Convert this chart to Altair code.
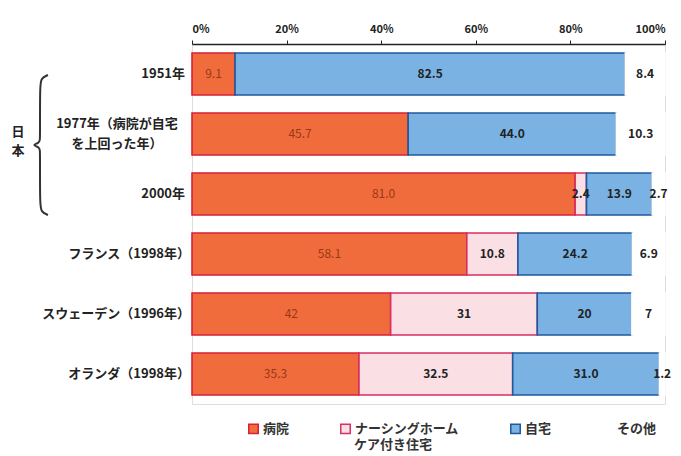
import altair as alt
import pandas as pd

categories = ["1951年", "1977年（病院が自宅|を上回った年）", "2000年",
              "フランス（1998年）", "スウェーデン（1996年）", "オランダ（1998年）"]
series = ["病院", "ナーシングホーム|ケア付き住宅", "自宅", "その他"]
hospital = [9.1, 45.7, 81.0, 58.1, 42, 35.3]
nursing = [0, 0, 2.4, 10.8, 31, 32.5]
home = [82.5, 44.0, 13.9, 24.2, 20, 31.0]
other = [8.4, 10.3, 2.7, 6.9, 7, 1.2]
labels = [
    ["9.1", "", "82.5", "8.4"],
    ["45.7", "", "44.0", "10.3"],
    ["81.0", "2.4", "13.9", "2.7"],
    ["58.1", "10.8", "24.2", "6.9"],
    ["42", "31", "20", "7"],
    ["35.3", "32.5", "31.0", "1.2"],
]
fills = ["#F06C3C", "#FADFE5", "#7AB2E3", "#FFFFFF"]
legend_strokes = ["#D8203A", "#D83060", "#1E5AA0", "#FFFFFF"]

# decorative brace (pixel coords relative to plot origin)
brace_x = [-144, -151, -152, -152, -152, -153, -160, -153, -152, -152, -152, -151, -144]
brace_y = [31, 34, 42, 90, 96, 99, 101, 103, 106, 112, 160, 168, 171]

rows = []
for i, c in enumerate(categories):
    vals = [hospital[i], nursing[i], home[i], other[i]]
    for j, s in enumerate(series):
        rows.append({"cat": c, "series": s, "order": j, "value": vals[j], "label": labels[i][j]})
df = pd.DataFrame(rows)
cat_df = pd.DataFrame({"cat": categories})
brace_df = pd.DataFrame({"bx": brace_x, "by": brace_y, "i": list(range(len(brace_x)))})

FONT = "Noto Sans CJK JP"
yscale = alt.Scale(domain=categories, paddingInner=0.3, paddingOuter=0.15)
Y = alt.Y("cat:N", sort=categories, scale=yscale, axis=None)

base = alt.Chart(df).transform_filter("datum.value > 0").transform_stack(
    stack="value", groupby=["cat"], as_=["x0", "x1"], sort=[alt.SortField("order")]
).transform_calculate(mid="(datum.x0 + datum.x1) / 2")

bars = base.mark_bar(strokeWidth=1.6).encode(
    x=alt.X("x0:Q", scale=alt.Scale(domain=[0, 100], nice=False),
            axis=alt.Axis(orient="top", values=[0, 20, 40, 60, 80, 100],
                          labelExpr="datum.value + '%'", grid=False,
                          domainColor="#222", domainWidth=1.5, tickColor="#222",
                          tickSize=4, labelFont=FONT, labelFontSize=11,
                          labelFontWeight="bold", labelColor="#222", labelPadding=6,
                          title=None)),
    x2="x1:Q",
    y=Y,
    fill=alt.Fill("series:N", scale=alt.Scale(domain=series, range=fills), sort=series,
                  legend=alt.Legend(title=None, orient="none", legendX=55, legendY=378,
                                    direction="horizontal", symbolType="square",
                                    symbolSize=90, symbolStrokeWidth=1.5,
                                    labelFont=FONT, labelFontSize=13, labelFontWeight="bold",
                                    labelColor="#333", columnPadding=47, labelOffset=3,
                                    labelExpr="split(datum.label, '|')[0]")),
    stroke=alt.Stroke("series:N", scale=alt.Scale(domain=series, range=legend_strokes),
                      sort=series),
)

hosp_txt = base.transform_filter("datum.order == 0").mark_text(
    font=FONT, fontSize=12, color="#9A3818").encode(x="mid:Q", y=Y, text="label:N")
other_txt = base.transform_filter("datum.order > 0").mark_text(
    font=FONT, fontSize=12, fontWeight="bold", color="#222").encode(x="mid:Q", y=Y, text="label:N")

cat_year = alt.Chart(cat_df).transform_filter("test(/年$/, datum.cat)").mark_text(
    font=FONT, fontSize=13, fontWeight="bold", align="right", color="#222"
).encode(x=alt.value(-7), y=Y, text="cat:N")
cat_paren = alt.Chart(cat_df).transform_filter(
    "test(/）$/, datum.cat) && indexof(datum.cat, '|') < 0").mark_text(
    font=FONT, fontSize=13, fontWeight="bold", align="right", color="#222"
).encode(x=alt.value(-2), y=Y, text="cat:N")
cat_multi = alt.Chart(cat_df).transform_filter("indexof(datum.cat, '|') >= 0").mark_text(
    font=FONT, fontSize=13, fontWeight="bold", align="center", color="#222", lineBreak="|",
    lineHeight=20, dy=-10, baseline="middle"
).encode(x=alt.value(-75), y=Y, text="cat:N")

japan = alt.Chart(cat_df).transform_filter("datum.cat == '1951年'").mark_text(
    font=FONT, fontSize=13, fontWeight="bold", color="#222", lineBreak="|", lineHeight=19
).encode(x=alt.value(-174), y=alt.value(88), text=alt.value("日|本"))

legend_line2 = alt.Chart(cat_df).transform_filter("datum.cat == '1951年'").mark_text(
    font=FONT, fontSize=13, fontWeight="bold", color="#333", align="left"
).encode(x=alt.value(162), y=alt.value(401), text=alt.value("ケア付き住宅"))

brace = alt.Chart(brace_df).mark_line(color="#333", strokeWidth=2, interpolate="basis").encode(
    x=alt.X("bx:Q", scale=None), y=alt.Y("by:Q", scale=None), order="i:Q")

chart = alt.layer(bars, hosp_txt, other_txt, cat_year, cat_paren, cat_multi, japan,
                  legend_line2, brace).properties(
    width=473, height=360,
    padding={"left": 184, "top": 36, "right": 8, "bottom": 52},
    autosize=alt.AutoSizeParams(type="none"),
).configure_view(stroke=None).configure(background="white")

chart.save("out.html", embed_options={"renderer": "svg", "actions": False})
